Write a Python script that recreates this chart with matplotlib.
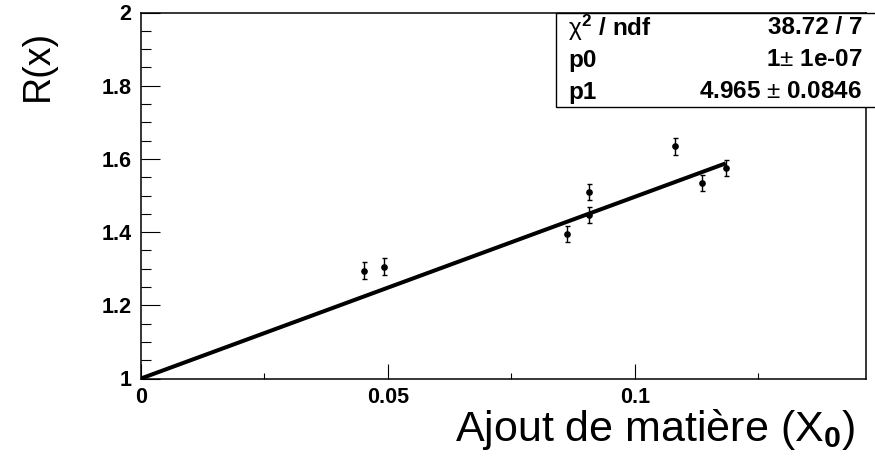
import matplotlib
matplotlib.use('Agg')
import matplotlib.pyplot as plt
import matplotlib.patches as mpatches
from matplotlib.ticker import MultipleLocator, FuncFormatter

# measured points (material added in X0, ratio R)
x_vals = [0.0, 0.0452, 0.0493, 0.0862, 0.0907, 0.0907, 0.1081, 0.1135, 0.1184]
r_vals = [1.0, 1.2945, 1.3055, 1.395, 1.447, 1.509, 1.635, 1.535, 1.576]
r_errs = [0.0, 0.023, 0.023, 0.022, 0.021, 0.022, 0.023, 0.022, 0.022]

# pol1 fit results
p0, p0_err = 1.0, '1e-07'
p1, p1_err = 4.965, 0.0846
chi2, ndf = 38.72, 7

plt.rcParams['font.family'] = ['Liberation Sans', 'DejaVu Sans']
plt.rcParams['mathtext.fontset'] = 'custom'
plt.rcParams['mathtext.rm'] = 'Liberation Sans'
plt.rcParams['mathtext.it'] = 'Liberation Sans'
plt.rcParams['mathtext.bf'] = 'Liberation Sans:bold'

W, H = 875, 459
fig = plt.figure(figsize=(W / 100, H / 100), dpi=100)
ax = fig.add_axes([141 / W, 1 - 378.5 / H, 725 / W, 366 / H])

# fit line over the graph range
xf = [0.0, max(x_vals)]
ax.plot(xf, [p0 + p1 * v for v in xf], color='black', lw=2.9, solid_capstyle='butt', zorder=2)

ax.errorbar(x_vals, r_vals, yerr=r_errs, fmt='o', color='black', ms=3.8,
            elinewidth=1.0, capsize=1.8, capthick=1.0, zorder=3)

ax.set_xlim(0, 0.1468)
ax.set_ylim(1, 2)

ax.xaxis.set_major_locator(MultipleLocator(0.05))
ax.xaxis.set_minor_locator(MultipleLocator(0.025))
ax.yaxis.set_major_locator(MultipleLocator(0.2))
ax.yaxis.set_minor_locator(MultipleLocator(0.05))
fmt = FuncFormatter(lambda v, pos: '%g' % round(v, 3))
ax.xaxis.set_major_formatter(fmt)
ax.yaxis.set_major_formatter(fmt)

ax.tick_params(axis='x', which='major', direction='in', length=10.8, width=0.8,
               pad=6, labelsize=15.5)
ax.tick_params(axis='x', which='minor', direction='in', length=4.3, width=0.8)
ax.tick_params(axis='y', which='major', direction='in', length=13.7, width=0.8,
               pad=7, labelsize=15.5)
ax.tick_params(axis='y', which='minor', direction='in', length=7.2, width=0.8)
for lab in ax.get_xticklabels() + ax.get_yticklabels():
    lab.set_fontweight('bold')

for sp in ax.spines.values():
    sp.set_linewidth(1.1)

fig.text(38 / W, 1 - 30 / H, 'R(x)', rotation=90, ha='center', va='top', fontsize=27)
fig.text(855 / W, 1 - 452 / H, r'Ajout de matière (X$_\mathbf{0}$)', ha='right',
         va='bottom', fontsize=31)

# statistics box
box = mpatches.Rectangle((556 / W, 1 - 106.5 / H), 330 / W, 94 / H, transform=fig.transFigure,
                         facecolor='white', edgecolor='black', lw=1.0, zorder=5)
fig.patches.append(box)
rows = [(r'$\chi^\mathbf{2}$ / ndf', '%.2f / %d' % (chi2, ndf)),
        ('p0', '%g$\\pm$ %s' % (p0, p0_err)),
        ('p1', '%.3f $\\pm$ %.4f' % (p1, p1_err))]
for i, (name, val) in enumerate(rows):
    yy = 1 - (28 + 32 * i) / H
    fig.text(568 / W, yy, name, ha='left', va='center', fontsize=17.5, fontweight='bold', zorder=6)
    fig.text(862 / W, yy, val, ha='right', va='center', fontsize=17.5, fontweight='bold', zorder=6)

fig.savefig('out.png', dpi=100)
